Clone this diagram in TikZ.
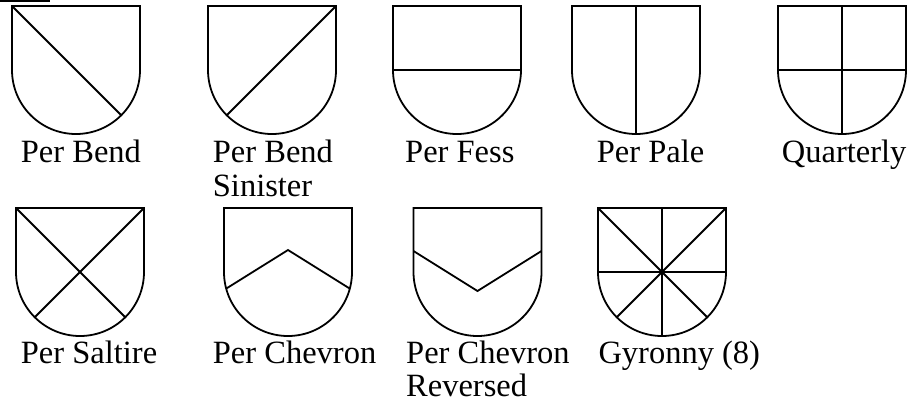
\documentclass[tikz,border=0pt]{standalone}
\usepackage{fontspec}
\setmainfont{Liberation Serif}
\begin{document}
\begin{tikzpicture}[x=1pt,y=-1pt,
  shieldline/.style={line width=1.8pt,line join=miter},
  lbl/.style={anchor=base west,inner sep=0pt,font=\fontsize{32.5}{35}\selectfont}]
\useasboundingbox (0,0) rectangle (912,402);
\newcommand\myshield[3]{%
  \coordinate (#1) at (#2,#3);
  \draw[shieldline] (#2,#3+64) -- (#2,#3) -- (#2+128,#3) -- (#2+128,#3+64)
    arc[start angle=0,end angle=180,radius=64] -- cycle;}
% stray bar at top left
\draw[line width=2pt] (0,1) -- (50,1);
% Row 1
\myshield{s1}{12}{6}
\draw[shieldline] (s1) -- ++(109.25,109.25);
\node[lbl] (t1) at (20.7,162) {Per Bend};
\myshield{s2}{208}{6}
\draw[shieldline] ([xshift=128pt]s2) -- ++(-109.25,109.25);
\node[lbl] (t2a) at (212.7,162) {Per Bend};
\node[lbl] (t2b) at (212.7,196.5) {Sinister};
\myshield{s3}{393}{6}
\draw[shieldline] ([yshift=-64pt]s3) -- ++(128,0);
\node[lbl] (t3) at (405,162) {Per Fess};
\myshield{s4}{572}{6}
\draw[shieldline] ([xshift=64pt]s4) -- ++(0,128);
\node[lbl] (t4) at (596.7,162) {Per Pale};
\myshield{s5}{778}{6}
\draw[shieldline] ([xshift=64pt]s5) -- ++(0,128);
\draw[shieldline] ([yshift=-64pt]s5) -- ++(128,0);
\node[lbl] (t5) at (781.7,162) {Quarterly};
% Row 2
\myshield{s6}{16}{208}
\draw[shieldline] (s6) -- ++(109.25,109.25);
\draw[shieldline] ([xshift=128pt]s6) -- ++(-109.25,109.25);
\node[lbl] (t6) at (20.7,363) {Per Saltire};
\myshield{s7}{224}{208}
\draw[shieldline] ([xshift=2.2pt,yshift=-80.6pt]s7) -- ++(61.8,-38.6) -- ++(61.8,38.6);
\node[lbl] (t7) at (212.7,363) {Per Chevron};
\myshield{s8}{413.5}{208}
\draw[shieldline] ([yshift=-43pt]s8) -- ++(64,40) -- ++(64,-40);
\node[lbl] (t8a) at (406,363) {Per Chevron};
\node[lbl] (t8b) at (406,396) {Reversed};
\myshield{s9}{598}{208}
\draw[shieldline] (s9) -- ++(109.25,109.25);
\draw[shieldline] ([xshift=128pt]s9) -- ++(-109.25,109.25);
\draw[shieldline] ([xshift=64pt]s9) -- ++(0,128);
\draw[shieldline] ([yshift=-64pt]s9) -- ++(128,0);
\node[lbl] (t9) at (598.3,363) {Gyronny (8)};
\end{tikzpicture}
\end{document}
